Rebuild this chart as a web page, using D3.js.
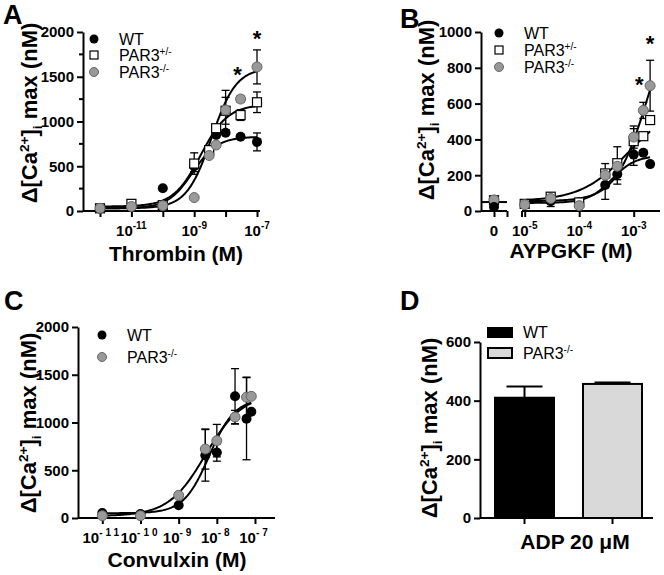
<!DOCTYPE html>
<html><head><meta charset="utf-8">
<script src="https://cdn.jsdelivr.net/npm/d3@7"></script>
<style>body{margin:0;background:#fff} svg text{font-family:"Liberation Sans",Arial,Helvetica,sans-serif}</style>
</head><body><svg id="c" width="664" height="575"></svg>
<script>
// ---------- DATA ----------
// Panel A: Thrombin
const thrombinConc = [1e-12,1e-11,1e-10,1e-9,3e-9,5e-9,1e-8,3e-8,1e-7];
const thrombinWT     = [25, 60, 255, 500, 670, 850, 875, 830, 772];
const thrombinWTErr  = [0, 0, 0, 60, 0, 0, 0, 0, 100];
const thrombinHet    = [30, 80, 65, 530, 680, 925, 1120, 1072, 1215];
const thrombinHetErr = [0, 20, 0, 120, 0, 40, 150, 60, 115];
const thrombinKO     = [30, 50, 60, 150, 620, 737, 1128, 1251, 1610];
const thrombinKOErr  = [0, 0, 0, 0, 0, 0, 220, 35, 190];
const thrombinFitWT  = [30, 830, -9.05, 1.1];   // bottom, top, logEC50, hill
const thrombinFitHet = [50, 1190, -8.8, 1.0];
const thrombinFitKO  = [30, 1600, -8.45, 1.1];
const thrombinTicks  = [1e-12,1e-11,1e-10,1e-9,1e-8,1e-7];
const thrombinTickLabels = [null,"-11",null,"-9",null,"-7"];

// Panel B: AYPGKF
const aypConc   = [1e-5,3e-5,1e-4,3e-4,5e-4,1e-3,1.5e-3,2e-3];
const aypZeroWT = 22, aypZeroWTErr = 20, aypZeroHet = 60, aypZeroKO = 62;
const aypWT     = [38, 55, 48, 145, 205, 315, 325, 262];
const aypWTErr  = [0, 30, 0, 80, 55, 60, 0, 0];
const aypHet    = [40, 80, 48, 210, 267, 390, 418, 508];
const aypHetErr = [0, 20, 0, 55, 92, 70, 0, 0];
const aypKO     = [35, 70, 30, 200, 250, 413, 562, 700];
const aypKOErr  = [0, 0, 0, 0, 0, 62, 45, 142];
const aypFitWT  = [45, 310, -3.4, 2.0];
const aypFitHet = [55, 600, -3.1, 1.0];
const aypFitKO  = [55, 1200, -2.75, 1.5];
const aypZeroFit = 50;
const aypTicks  = [1e-5,1e-4,1e-3];
const aypTickLabels = ["-5","-4","-3"];

// Panel C: Convulxin
const cvxConc  = [1e-11,1e-10,1e-9,5e-9,1e-8,3e-8,6e-8,8e-8];
const cvxWT    = [52, 42, 133, 656, 685, 1274, 1040, 1113];
const cvxWTErr = [0, 0, 0, 270, 90, 290, 430, 0];
const cvxKO    = [24, 24, 237, 722, 810, 1057, 1265, 1274];
const cvxKOErr = [0, 0, 0, 210, 170, 70, 210, 0];
const cvxFitWT = [50, 1250, -8.2, 1.3];
const cvxFitKO = [20, 1300, -8.3, 0.9];
const cvxTicks = [1e-11,1e-10,1e-9,1e-8,1e-7];
const cvxTickLabels = ["-11","-10","-9","-8","-7"];

// Panel D: ADP
const adpGroups = ["WT","PAR3-/-"];
const adpValues = [410, 457];
const adpErr    = [38, 5];

// ---------- DRAWING ----------
const svg = d3.select("#c");
svg.append("rect").attr("width",664).attr("height",575).attr("fill","#fff");
const GREY = "#999", GREYS = "#666";
const TICKFS = 15;

function sig(p){ return lx => p[0] + (p[1]-p[0])/(1+Math.pow(10,(p[2]-lx)*p[3])); }

function yLabel(cx, cy, size){
  const t = svg.append("text").attr("transform",`translate(${cx},${cy}) rotate(-90)`)
    .attr("text-anchor","middle").attr("font-weight","bold").attr("font-size",size);
  t.append("tspan").text("Δ[Ca");
  t.append("tspan").attr("dy",-size*0.38).attr("font-size",size*0.62).text("2+");
  t.append("tspan").attr("dy",size*0.38).text("]");
  t.append("tspan").attr("dy",size*0.22).attr("font-size",size*0.62).text("i");
  t.append("tspan").attr("dy",-size*0.22).text(" max (nM)");
}
function xLabel(cx, by, txt, size){
  svg.append("text").attr("x",cx).attr("y",by).attr("text-anchor","middle")
    .attr("font-weight","bold").attr("font-size",size).text(txt);
}
function letter(x,y,t){
  svg.append("text").attr("x",x).attr("y",y).attr("font-weight","bold").attr("font-size",27).text(t);
}
function yAxis(x0, y, ticks, minor){
  const g = svg.append("g").attr("transform",`translate(${x0},0)`);
  g.call(d3.axisLeft(y).tickValues(ticks).tickSize(6).tickSizeOuter(0).tickPadding(3).tickFormat(d3.format("d")));
  g.select(".domain").attr("stroke-width",2);
  g.selectAll(".tick line").attr("stroke-width",2);
  g.selectAll(".tick text").attr("font-size",TICKFS).attr("font-weight","bold").attr("fill","#000");
  if(minor){
    g.selectAll(".minor").data(minor).enter().append("line")
      .attr("x1",0).attr("x2",-4).attr("y1",d=>y(d)).attr("y2",d=>y(d)).attr("stroke","#000").attr("stroke-width",2);
  }
  return g;
}
function xLine(x1,x2,yy){
  svg.append("line").attr("x1",x1).attr("x2",x2).attr("y1",yy).attr("y2",yy).attr("stroke","#000").attr("stroke-width",2);
}
function xTicks(x, ticks, labels, yy, spaced){
  const g = svg.append("g").attr("transform",`translate(0,${yy})`);
  g.call(d3.axisBottom(x).tickValues(ticks).tickSize(6).tickFormat(""));
  g.select(".domain").remove();
  g.selectAll(".tick line").attr("stroke-width",2);
  ticks.forEach((t,i)=>{
    if(!labels[i]) return;
    const tx = svg.append("text").attr("x",x(t)).attr("y",yy+25).attr("text-anchor","middle")
      .attr("font-weight","bold").attr("font-size",TICKFS);
    tx.append("tspan").text("10");
    const s = tx.append("tspan").attr("dy",-7).attr("font-size",10).text(labels[i]);
    if(spaced) s.attr("letter-spacing",3);
  });
}
function errBars(x, y, conc, vals, errs, cap){
  conc.forEach((c,i)=>{
    const e = errs[i]; if(!e) return;
    const xx = x(c);
    svg.append("line").attr("x1",xx).attr("x2",xx).attr("y1",y(vals[i]-e)).attr("y2",y(vals[i]+e)).attr("stroke","#000").attr("stroke-width",1.3);
    [vals[i]-e, vals[i]+e].forEach(v=>svg.append("line").attr("x1",xx-cap).attr("x2",xx+cap).attr("y1",y(v)).attr("y2",y(v)).attr("stroke","#000").attr("stroke-width",1.3));
  });
}
function curve(x, y, conc, p){
  const f = sig(p);
  const lo = Math.log10(conc[0]), hi = Math.log10(conc[conc.length-1]);
  const pts = d3.range(0,101).map(i=>{ const lx = lo + (hi-lo)*i/100; return [x(Math.pow(10,lx)), y(f(lx))]; });
  svg.append("path").attr("d",d3.line()(pts)).attr("fill","none").attr("stroke","#000").attr("stroke-width",2);
}
function dots(x, y, conc, vals, kind){
  conc.forEach((c,i)=>{
    if(vals[i]==null) return;
    marker(x(c), y(vals[i]), kind);
  });
}
function marker(cx, cy, kind, sz){
  const r = sz || 5;
  if(kind==="wt") svg.append("circle").attr("cx",cx).attr("cy",cy).attr("r",r).attr("fill","#000");
  else if(kind==="ko") svg.append("circle").attr("cx",cx).attr("cy",cy).attr("r",r).attr("fill",GREY).attr("stroke",GREYS).attr("stroke-width",1);
  else svg.append("rect").attr("x",cx-r+0.5).attr("y",cy-r+0.5).attr("width",2*r-1).attr("height",2*r-1).attr("fill","#fff").attr("stroke","#000").attr("stroke-width",1.2);
}
function legend(x, ys, items){
  items.forEach((it,i)=>{
    marker(x, ys[i], it.kind, 4.5);
    const t = svg.append("text").attr("x",x+25).attr("y",ys[i]+5.5).attr("font-size",16).text(it.name);
    if(it.sup) t.append("tspan").attr("dy",-6).attr("font-size",10).text(it.sup);
  });
}
function star(x, y){
  svg.append("text").attr("x",x).attr("y",y).attr("text-anchor","middle").attr("font-size",22).attr("font-weight","bold").text("*");
}

// ===== Panel A =====
{
  const x = d3.scaleLog().domain([1e-12,1e-7]).range([100,257]);
  const y = d3.scaleLinear().domain([0,2000]).range([211,32]);
  xLine(83,260,211);
  yAxis(83, y, [0,500,1000,1500,2000], [250,750,1250,1750]);
  xTicks(x, thrombinTicks, thrombinTickLabels, 211);
  curve(x,y,thrombinConc,thrombinFitWT);
  curve(x,y,thrombinConc,thrombinFitHet);
  curve(x,y,thrombinConc,thrombinFitKO);
  errBars(x,y,thrombinConc,thrombinWT,thrombinWTErr,4);
  errBars(x,y,thrombinConc,thrombinHet,thrombinHetErr,4);
  errBars(x,y,thrombinConc,thrombinKO,thrombinKOErr,4);
  dots(x,y,thrombinConc,thrombinWT,"wt");
  dots(x,y,thrombinConc,thrombinHet,"het");
  dots(x,y,thrombinConc,thrombinKO,"ko");
  star(x(3e-8)-3, 82);
  star(x(1e-7), 46);
  legend(94,[39,55,72],[{kind:"wt",name:"WT"},{kind:"het",name:"PAR3",sup:"+/-"},{kind:"ko",name:"PAR3",sup:"-/-"}]);
  yLabel(37,113,22);
  xLabel(176,261,"Thrombin (M)",21);
  letter(3,24,"A");
}

// ===== Panel B =====
{
  const x0 = 481;
  const xz = d3.scaleLinear().domain([-1,1]).range([481,507]);
  const x = d3.scaleLog().domain([1e-5,1e-3]).range([524.7,633.7]);
  const y = d3.scaleLinear().domain([0,1000]).range([211,32]);
  xLine(x0,507,211);
  xLine(522,660,211);
  yAxis(x0, y, [0,200,400,600,800,1000]);
  const gz = svg.append("g").attr("transform","translate(0,211)");
  gz.call(d3.axisBottom(xz).tickValues([0,1]).tickSize(6).tickFormat(""));
  gz.select(".domain").remove(); gz.selectAll(".tick line").attr("stroke-width",2);
  svg.append("text").attr("x",xz(0)).attr("y",236).attr("text-anchor","middle").attr("font-weight","bold").attr("font-size",TICKFS).text("0");
  xTicks(x, aypTicks, aypTickLabels, 211);
  svg.append("line").attr("x1",522).attr("x2",522).attr("y1",211).attr("y2",217).attr("stroke","#000").attr("stroke-width",2);
  svg.append("line").attr("x1",xz(-1)).attr("x2",xz(1)).attr("y1",y(aypZeroFit)).attr("y2",y(aypZeroFit)).attr("stroke","#000").attr("stroke-width",2);
  curve(x,y,aypConc,aypFitWT);
  curve(x,y,aypConc,aypFitHet);
  curve(x,y,aypConc,aypFitKO);
  svg.append("line").attr("x1",xz(0)).attr("x2",xz(0)).attr("y1",y(aypZeroWT)).attr("y2",y(aypZeroWT+aypZeroWTErr)).attr("stroke","#000").attr("stroke-width",1.3);
  errBars(x,y,aypConc,aypWT,aypWTErr,4);
  errBars(x,y,aypConc,aypHet,aypHetErr,4);
  errBars(x,y,aypConc,aypKO,aypKOErr,4);
  marker(xz(0), y(aypZeroHet), "het");
  marker(xz(0), y(aypZeroKO), "ko");
  marker(xz(0), y(aypZeroWT), "wt");
  dots(x,y,aypConc,aypWT,"wt");
  dots(x,y,aypConc,aypHet,"het");
  dots(x,y,aypConc,aypKO,"ko");
  star(x(1.5e-3)-4, 92);
  star(x(2e-3), 51);
  legend(499,[33,50,67],[{kind:"wt",name:"WT"},{kind:"het",name:"PAR3",sup:"+/-"},{kind:"ko",name:"PAR3",sup:"-/-"}]);
  yLabel(434,110,22);
  xLabel(571,258,"AYPGKF (M)",21);
  letter(400,28,"B");
}

// ===== Panel C =====
{
  const x = d3.scaleLog().domain([1e-11,1e-7]).range([102.3,255]);
  const y = d3.scaleLinear().domain([0,2000]).range([518,327]);
  xLine(78,275,518);
  yAxis(78, y, [0,500,1000,1500,2000]);
  xTicks(x, cvxTicks, cvxTickLabels, 518, true);
  curve(x,y,cvxConc,cvxFitWT);
  curve(x,y,cvxConc,cvxFitKO);
  errBars(x,y,cvxConc,cvxWT,cvxWTErr,4);
  errBars(x,y,cvxConc,cvxKO,cvxKOErr,4);
  dots(x,y,cvxConc,cvxWT,"wt");
  dots(x,y,cvxConc,cvxKO,"ko");
  legend(102,[335,357],[{kind:"wt",name:"WT"},{kind:"ko",name:"PAR3",sup:"-/-"}]);
  yLabel(36,423,22);
  xLabel(177,567,"Convulxin (M)",21);
  letter(4,310,"C");
}

// ===== Panel D =====
{
  const x = d3.scaleBand().domain(adpGroups).range([494,643]).paddingInner(0.307);
  const y = d3.scaleLinear().domain([0,600]).range([518,342]);
  xLine(480,653,518);
  yAxis(480, y, [0,200,400,600]);
  const gx = svg.append("g").attr("transform","translate(0,518)");
  gx.call(d3.axisBottom(x).tickSize(6).tickFormat(""));
  gx.select(".domain").remove(); gx.selectAll(".tick line").attr("stroke-width",2);
  const fills = ["#000","#d9d9d9"];
  adpGroups.forEach((g,i)=>{
    const cx = x(g)+x.bandwidth()/2;
    svg.append("line").attr("x1",cx).attr("x2",cx).attr("y1",y(adpValues[i])).attr("y2",y(adpValues[i]+adpErr[i])).attr("stroke","#000").attr("stroke-width",2);
    svg.append("line").attr("x1",cx-18).attr("x2",cx+18).attr("y1",y(adpValues[i]+adpErr[i])).attr("y2",y(adpValues[i]+adpErr[i])).attr("stroke","#000").attr("stroke-width",2);
    svg.append("rect").attr("x",x(g)+1).attr("y",y(adpValues[i])).attr("width",x.bandwidth()-2).attr("height",y(0)-y(adpValues[i]))
      .attr("fill",fills[i]).attr("stroke","#000").attr("stroke-width",2);
  });
  svg.append("rect").attr("x",488).attr("y",328).attr("width",24).attr("height",9).attr("fill","#000").attr("stroke","#000").attr("stroke-width",2);
  svg.append("rect").attr("x",488).attr("y",348).attr("width",24).attr("height",10).attr("fill","#d9d9d9").attr("stroke","#000").attr("stroke-width",2);
  svg.append("text").attr("x",523).attr("y",338).attr("font-size",16).text("WT");
  const t = svg.append("text").attr("x",523).attr("y",359).attr("font-size",16).text("PAR3");
  t.append("tspan").attr("dy",-6).attr("font-size",10).text("-/-");
  yLabel(437,428,22);
  xLabel(575,549,"ADP 20 μM",21);
  letter(400,310,"D");
}
</script></body></html>
